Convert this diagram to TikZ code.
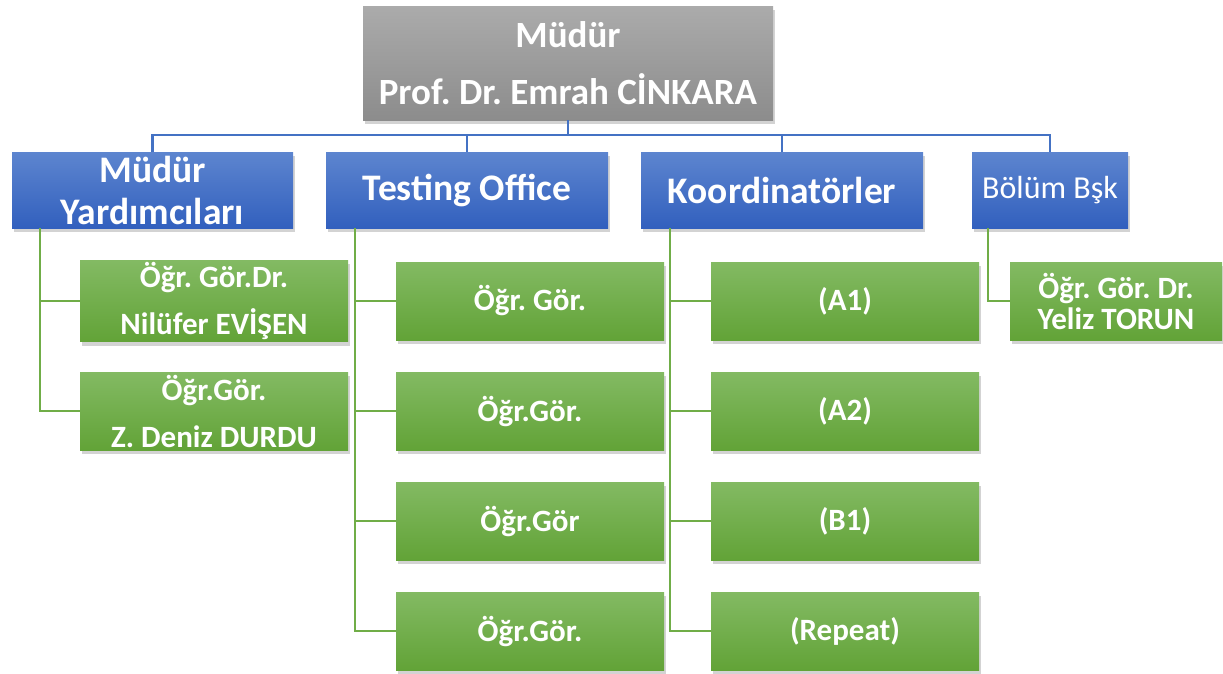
\documentclass[tikz,border=0pt]{standalone}
\usepackage{fontspec}
\setmainfont{Carlito}
\frenchspacing
\usetikzlibrary{shadows}
\definecolor{graytop}{RGB}{171,171,171}
\definecolor{graybot}{RGB}{140,140,140}
\definecolor{bluetop}{RGB}{93,133,207}
\definecolor{bluebot}{RGB}{50,96,190}
\definecolor{greentop}{RGB}{131,186,99}
\definecolor{greenbot}{RGB}{98,163,55}
\definecolor{blueln}{RGB}{68,114,196}
\definecolor{greenln}{RGB}{112,173,71}

\begin{document}
\begin{tikzpicture}[x=1pt,y=-1pt,
	box/.style={rectangle,inner sep=2pt,align=center,text=white,
		drop shadow={opacity=0.35,shadow xshift=2pt,shadow yshift=-4pt}},
	graybox/.style={box,top color=graytop,bottom color=graybot,
		minimum width=410pt,minimum height=114pt,font=\bfseries\fontsize{37}{57}\selectfont},
	bluebox/.style={box,top color=bluetop,bottom color=bluebot,
		minimum height=76pt,font=\bfseries\fontsize{37.5}{42}\selectfont},
	greenbox/.style={box,top color=greentop,bottom color=greenbot,
		minimum width=268pt,minimum height=78pt,font=\bfseries\fontsize{31}{47}\selectfont},
	blueline/.style={draw=blueln,line width=2.2pt},
	greenline/.style={draw=greenln,line width=2.2pt}]
	\useasboundingbox (0,0) rectangle (1223,673);

	% top level
	\node[graybox] (mudur) at (568,63) {Müdür\\Prof. Dr. Emrah CİNKARA};
	\coordinate (bus) at (0,135);

	% second level
	\node[bluebox,minimum width=281pt] (yard) at (152.5,190) {Müdür\\Yardımcıları};
	\node[bluebox,minimum width=282pt] (test) at (467,190) {Testing Office};
	\node[bluebox,minimum width=282pt] (koord) at (782,190) {Koordinatörler};
	\node[bluebox,minimum width=156pt,font=\fontsize{32}{31}\selectfont] (bolum) at (1050,190) {Bölüm Bşk};
	\foreach \n in {yard,test,koord,bolum}
		\draw[blueline] (mudur.south) -- (mudur.south |- bus) -| (\n.north);

	% Müdür Yardımcıları
	\node[greenbox] (yard1) at (214,301) {Öğr. Gör.Dr.\\Nilüfer EVİŞEN};
	\node[greenbox] (yard2) at (214,411) {Öğr.Gör.\\Z. Deniz DURDU};
	\foreach \n in {yard1,yard2}
		\draw[greenline] ([xshift=28pt]yard.south west) |- (\n.west);

	% Testing Office
	\foreach \t [count=\i] in {Öğr. Gör.,Öğr.Gör.,Öğr.Gör,Öğr.Gör.}{
		\node[greenbox] (test\i) at (530,191+110*\i) {\t};
		\draw[greenline] ([xshift=29pt]test.south west) |- (test\i.west);
	}

	% Koordinatörler
	\foreach \t [count=\i] in {(A1),(A2),(B1),(Repeat)}{
		\node[greenbox] (koord\i) at (845,191+110*\i) {\t};
		\draw[greenline] ([xshift=29pt]koord.south west) |- (koord\i.west);
	}

	% Bölüm Bşk
	\node[greenbox,minimum width=212pt,font=\bfseries\fontsize{31}{31}\selectfont] (bolum1) at (1116,301) {Öğr. Gör. Dr.\\Yeliz TORUN};
	\draw[greenline] ([xshift=16pt]bolum.south west) |- (bolum1.west);
\end{tikzpicture}
\end{document}
